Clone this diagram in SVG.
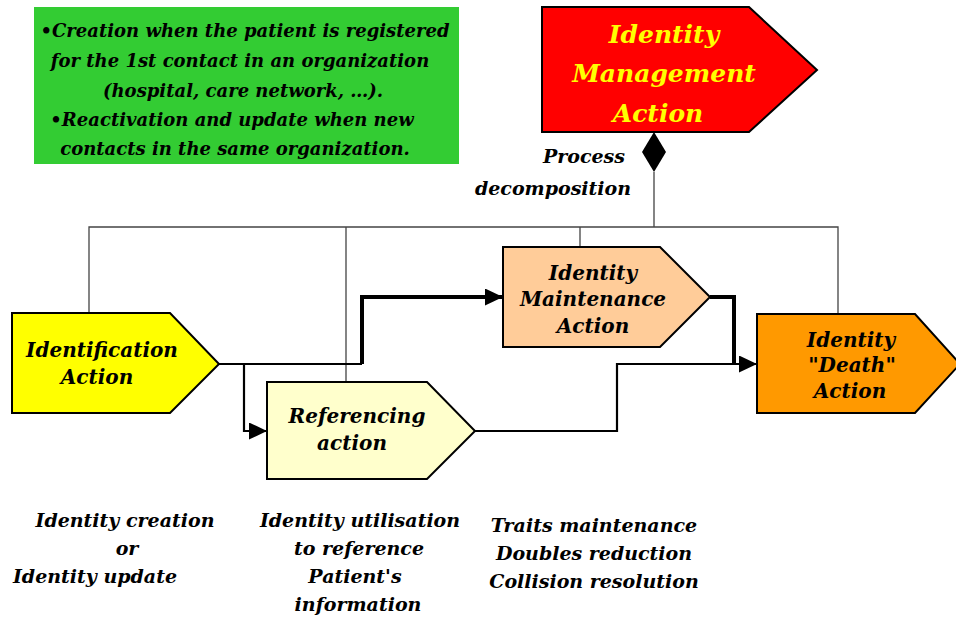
<svg xmlns="http://www.w3.org/2000/svg" width="956" height="623" viewBox="0 0 956 623">
  <defs>
    <style>
      .t { font-family: "DejaVu Serif", "Liberation Serif", serif; font-style: italic; font-weight: bold; fill: #000; }
      .node { stroke: #000; stroke-width: 2; }
      .tree { fill: none; stroke: #444; stroke-width: 1.3; }
      .flow { fill: none; stroke: #000; stroke-width: 2.2; }
      .flowbold { fill: none; stroke: #000; stroke-width: 4; }
    </style>
    <marker id="arr" markerWidth="18" markerHeight="17" refX="18" refY="8.5" orient="auto" markerUnits="userSpaceOnUse" viewBox="0 0 18 17">
      <path d="M0,0 L18,8.5 L0,17 Z" fill="#000"/>
    </marker>
  </defs>

  <rect width="956" height="623" fill="#fff"/>

  <!-- notes box -->
  <g id="note">
    <rect x="34" y="7" width="425" height="157" fill="#33cc33"/>
    <g class="t" font-size="18">
      <text x="245" y="37" text-anchor="middle">•Creation when the patient is registered</text>
      <text x="240" y="67" text-anchor="middle">for the 1st contact in an organization</text>
      <text x="243" y="97" text-anchor="middle">(hospital, care network, …).</text>
      <text x="232" y="126" text-anchor="middle">•Reactivation and update  when new</text>
      <text x="235" y="155" text-anchor="middle">contacts in the same organization.</text>
    </g>
  </g>

  <!-- connectors -->
  <g id="connectors">
    <!-- process decomposition tree -->
    <path class="tree" d="M654,172 V227 M89,313 V227 H838 V313 M346,382 V227 M580,247 V227"/>
    <polygon points="654,132 666,152 654,172 642,152" fill="#000"/>
    <!-- identification to maintenance -->
    <path class="flow" d="M219,364 H362"/>
    <path class="flowbold" d="M362,364 V297 H503" marker-end="url(#arr)"/>
    <!-- identification to referencing -->
    <path class="flow" d="M244,364 V431 H267" marker-end="url(#arr)"/>
    <!-- maintenance to death -->
    <path class="flowbold" d="M710,297 H734 V364"/>
    <!-- referencing to death -->
    <path class="flow" d="M475,431 H617 V364 H757" marker-end="url(#arr)"/>
  </g>

  <!-- Identity Management Action -->
  <g id="management">
    <polygon class="node" points="542,7 749,7 817,70 749,132 542,132" fill="#ff0000" stroke-width="1.5"/>
    <g class="t" font-size="25" text-anchor="middle" style="fill:#ffff00">
      <text x="664" y="43">Identity</text>
      <text x="664" y="82">Management</text>
      <text x="658" y="122">Action</text>
    </g>
  </g>

  <g id="decomposition-label" class="t" font-size="19">
    <text x="584" y="163" text-anchor="middle">Process</text>
    <text x="553" y="195" text-anchor="middle">decomposition</text>
  </g>

  <!-- Identification Action -->
  <g id="identification">
    <polygon class="node" points="12,313 170,313 219,364 170,413 12,413" fill="#ffff00"/>
    <g class="t" font-size="20" text-anchor="middle">
      <text x="102" y="357">Identification</text>
      <text x="97" y="384">Action</text>
    </g>
  </g>

  <!-- Referencing action -->
  <g id="referencing">
    <polygon class="node" points="267,382 427,382 475,431 427,479 267,479" fill="#ffffcc" stroke-width="1.5"/>
    <g class="t" font-size="20" text-anchor="middle">
      <text x="357" y="423">Referencing</text>
      <text x="352" y="450">action</text>
    </g>
  </g>

  <!-- Identity Maintenance Action -->
  <g id="maintenance">
    <polygon class="node" points="503,247 660,247 710,297 660,347 503,347" fill="#ffcc99" stroke-width="1.5"/>
    <g class="t" font-size="20" text-anchor="middle">
      <text x="593" y="280">Identity</text>
      <text x="593" y="306">Maintenance</text>
      <text x="593" y="333">Action</text>
    </g>
  </g>

  <!-- Identity "Death" Action -->
  <g id="death">
    <polygon class="node" points="757,314 915,314 960,364 915,413 757,413" fill="#ff9900"/>
    <g class="t" font-size="20" text-anchor="middle">
      <text x="851" y="347">Identity</text>
      <text x="852" y="372">"Death"</text>
      <text x="850" y="398">Action</text>
    </g>
  </g>

  <!-- descriptions -->
  <g id="desc-identification" class="t" font-size="19" text-anchor="middle">
    <text x="125" y="527">Identity creation</text>
    <text x="127" y="555">or</text>
    <text x="95" y="583">Identity update</text>
  </g>
  <g id="desc-referencing" class="t" font-size="19" text-anchor="middle">
    <text x="360" y="527">Identity utilisation</text>
    <text x="359" y="555">to reference</text>
    <text x="355" y="583">Patient's</text>
    <text x="358" y="611">information</text>
  </g>
  <g id="desc-maintenance" class="t" font-size="19" text-anchor="middle">
    <text x="594" y="532">Traits maintenance</text>
    <text x="594" y="560">Doubles reduction</text>
    <text x="594" y="588">Collision resolution</text>
  </g>
</svg>
